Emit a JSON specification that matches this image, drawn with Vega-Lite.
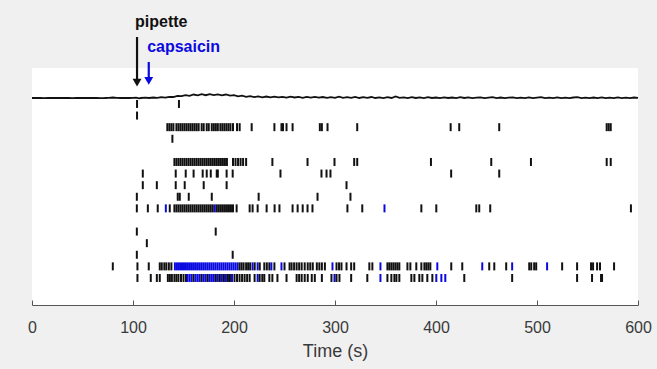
{
  "$schema": "https://vega.github.io/schema/vega-lite/v6.json",
  "width": 606,
  "height": 237,
  "autosize": "none",
  "padding": {"left": 32, "top": 68, "right": 19, "bottom": 64},
  "background": "#f0f0f0",
  "config": {
    "view": {"fill": "white", "stroke": null},
    "font": "Liberation Sans"
  },
  "datasets": {
    "trace": [
      {"t":0,"a":0},{"t":4,"a":0.1},{"t":8,"a":0},{"t":12,"a":-0.1},{"t":16,"a":0},{"t":20,"a":0.1},{"t":24,"a":0},{"t":28,"a":0},{"t":32,"a":0.1},{"t":36,"a":0},{"t":40,"a":-0.1},{"t":44,"a":0},{"t":48,"a":0.1},{"t":52,"a":0},{"t":56,"a":0},{"t":60,"a":0.1},{"t":64,"a":0},{"t":68,"a":-0.1},{"t":72,"a":0},{"t":76,"a":0.2},{"t":80,"a":0.5},{"t":84,"a":0.1},{"t":88,"a":0},{"t":92,"a":0.1},{"t":96,"a":0},{"t":100,"a":0.1},{"t":103,"a":0.3},{"t":106,"a":-0.4},{"t":108,"a":0},{"t":112,"a":0.3},{"t":116,"a":0},{"t":120,"a":0.5},{"t":124,"a":0.2},{"t":128,"a":0.8},{"t":132,"a":0.4},{"t":136,"a":1.1},{"t":140,"a":1.0},{"t":144,"a":2.0},{"t":148,"a":1.9},{"t":152,"a":2.9},{"t":156,"a":2.2},{"t":160,"a":3.5},{"t":164,"a":2.6},{"t":168,"a":3.8},{"t":172,"a":2.8},{"t":176,"a":3.9},{"t":180,"a":2.9},{"t":184,"a":3.7},{"t":188,"a":2.7},{"t":192,"a":3.5},{"t":196,"a":2.3},{"t":200,"a":2.9},{"t":204,"a":1.7},{"t":208,"a":2.3},{"t":212,"a":1.2},{"t":216,"a":1.9},{"t":220,"a":0.9},{"t":224,"a":1.7},{"t":228,"a":0.7},{"t":232,"a":1.5},{"t":236,"a":0.6},{"t":240,"a":1.4},{"t":244,"a":0.7},{"t":248,"a":1.2},{"t":252,"a":0.4},{"t":256,"a":1.3},{"t":260,"a":0.5},{"t":264,"a":1.1},{"t":268,"a":0.2},{"t":272,"a":1.2},{"t":276,"a":0.4},{"t":280,"a":1.1},{"t":284,"a":0.3},{"t":288,"a":1.0},{"t":292,"a":0.2},{"t":296,"a":0.9},{"t":300,"a":0.1},{"t":304,"a":1.3},{"t":308,"a":0.2},{"t":312,"a":0.8},{"t":316,"a":0.1},{"t":320,"a":1.1},{"t":324,"a":0},{"t":328,"a":0.8},{"t":332,"a":0.1},{"t":336,"a":1.0},{"t":340,"a":0},{"t":344,"a":0.7},{"t":348,"a":-0.1},{"t":352,"a":0.8},{"t":356,"a":0},{"t":360,"a":1.6},{"t":364,"a":0.1},{"t":368,"a":0.7},{"t":372,"a":-0.1},{"t":376,"a":0.9},{"t":380,"a":0},{"t":384,"a":0.6},{"t":388,"a":-0.1},{"t":392,"a":0.8},{"t":396,"a":0},{"t":400,"a":0.5},{"t":404,"a":-0.1},{"t":408,"a":0.7},{"t":412,"a":0},{"t":416,"a":0.5},{"t":420,"a":-0.1},{"t":424,"a":0.8},{"t":428,"a":0},{"t":432,"a":0.6},{"t":436,"a":-0.1},{"t":440,"a":0.4},{"t":444,"a":0.7},{"t":448,"a":-0.1},{"t":452,"a":0.4},{"t":456,"a":0.8},{"t":460,"a":-0.1},{"t":464,"a":0.5},{"t":468,"a":-0.1},{"t":472,"a":0.4},{"t":476,"a":0.7},{"t":480,"a":-0.1},{"t":484,"a":0.4},{"t":488,"a":-0.1},{"t":492,"a":0.6},{"t":496,"a":-0.1},{"t":500,"a":0.4},{"t":504,"a":0.8},{"t":508,"a":-0.1},{"t":512,"a":0.4},{"t":516,"a":-0.1},{"t":520,"a":0.7},{"t":524,"a":-0.1},{"t":528,"a":0.4},{"t":532,"a":-0.1},{"t":536,"a":0.5},{"t":540,"a":0.8},{"t":544,"a":-0.1},{"t":548,"a":0.4},{"t":552,"a":-0.1},{"t":556,"a":0.5},{"t":560,"a":-0.1},{"t":564,"a":0.7},{"t":568,"a":-0.1},{"t":572,"a":0.4},{"t":576,"a":-0.1},{"t":580,"a":0.6},{"t":584,"a":-0.1},{"t":588,"a":0.4},{"t":592,"a":-0.1},{"t":596,"a":0.5},{"t":600,"a":0.1}
    ],
    "spikes": [
      {"r":0,"t":104,"c":"k"},{"r":0,"t":145.5,"c":"k"},
      {"r":1,"t":104,"c":"k"},
      {"r":2,"t":134,"c":"k"},{"r":2,"t":136,"c":"k"},{"r":2,"t":138,"c":"k"},{"r":2,"t":140,"c":"k"},{"r":2,"t":143,"c":"k"},{"r":2,"t":145,"c":"k"},{"r":2,"t":147,"c":"k"},{"r":2,"t":149,"c":"k"},{"r":2,"t":151,"c":"k"},{"r":2,"t":153,"c":"k"},{"r":2,"t":155,"c":"k"},{"r":2,"t":157,"c":"k"},{"r":2,"t":159,"c":"k"},{"r":2,"t":161,"c":"k"},{"r":2,"t":163,"c":"k"},{"r":2,"t":165,"c":"k"},{"r":2,"t":168,"c":"k"},{"r":2,"t":170,"c":"k"},{"r":2,"t":173,"c":"k"},{"r":2,"t":175,"c":"k"},{"r":2,"t":178,"c":"k"},{"r":2,"t":180,"c":"k"},{"r":2,"t":182,"c":"k"},{"r":2,"t":184,"c":"k"},{"r":2,"t":186.5,"c":"k"},{"r":2,"t":188.5,"c":"k"},{"r":2,"t":190.5,"c":"k"},{"r":2,"t":192.5,"c":"k"},{"r":2,"t":194.5,"c":"k"},{"r":2,"t":196.5,"c":"k"},{"r":2,"t":199,"c":"k"},{"r":2,"t":203,"c":"k"},{"r":2,"t":205.6,"c":"k"},{"r":2,"t":217.5,"c":"k"},{"r":2,"t":240,"c":"k"},{"r":2,"t":247,"c":"k"},{"r":2,"t":248.5,"c":"k"},{"r":2,"t":252,"c":"k"},{"r":2,"t":258,"c":"k"},{"r":2,"t":285,"c":"k"},{"r":2,"t":287,"c":"k"},{"r":2,"t":292.6,"c":"k"},{"r":2,"t":322,"c":"k"},{"r":2,"t":414.5,"c":"k"},{"r":2,"t":423,"c":"k"},{"r":2,"t":462.6,"c":"k"},{"r":2,"t":569,"c":"k"},{"r":2,"t":571,"c":"k"},{"r":2,"t":573,"c":"k"},
      {"r":3,"t":139,"c":"k"},
      {"r":5,"t":141,"c":"k"},{"r":5,"t":143,"c":"k"},{"r":5,"t":145,"c":"k"},{"r":5,"t":147,"c":"k"},{"r":5,"t":149,"c":"k"},{"r":5,"t":151,"c":"k"},{"r":5,"t":153,"c":"k"},{"r":5,"t":155,"c":"k"},{"r":5,"t":157,"c":"k"},{"r":5,"t":159,"c":"k"},{"r":5,"t":161,"c":"k"},{"r":5,"t":163,"c":"k"},{"r":5,"t":165,"c":"k"},{"r":5,"t":167,"c":"k"},{"r":5,"t":169,"c":"k"},{"r":5,"t":171,"c":"k"},{"r":5,"t":173,"c":"k"},{"r":5,"t":175,"c":"k"},{"r":5,"t":177,"c":"k"},{"r":5,"t":179,"c":"k"},{"r":5,"t":181,"c":"k"},{"r":5,"t":183,"c":"k"},{"r":5,"t":185,"c":"k"},{"r":5,"t":187,"c":"k"},{"r":5,"t":189,"c":"k"},{"r":5,"t":191,"c":"k"},{"r":5,"t":193,"c":"k"},{"r":5,"t":199,"c":"k"},{"r":5,"t":201.5,"c":"k"},{"r":5,"t":204,"c":"k"},{"r":5,"t":206.5,"c":"k"},{"r":5,"t":209,"c":"k"},{"r":5,"t":212,"c":"k"},{"r":5,"t":238,"c":"k"},{"r":5,"t":272.8,"c":"k"},{"r":5,"t":299.5,"c":"k"},{"r":5,"t":319,"c":"k"},{"r":5,"t":322,"c":"k"},{"r":5,"t":395,"c":"k"},{"r":5,"t":454.7,"c":"k"},{"r":5,"t":494,"c":"k"},{"r":5,"t":569,"c":"k"},{"r":5,"t":573,"c":"k"},
      {"r":6,"t":109.7,"c":"k"},{"r":6,"t":142.3,"c":"k"},{"r":6,"t":152.2,"c":"k"},{"r":6,"t":160,"c":"k"},{"r":6,"t":169,"c":"k"},{"r":6,"t":173,"c":"k"},{"r":6,"t":177,"c":"k"},{"r":6,"t":182.9,"c":"k"},{"r":6,"t":184,"c":"k"},{"r":6,"t":192.7,"c":"k"},{"r":6,"t":198.7,"c":"k"},{"r":6,"t":246,"c":"k"},{"r":6,"t":286.6,"c":"k"},{"r":6,"t":291.6,"c":"k"},{"r":6,"t":295.5,"c":"k"},{"r":6,"t":415,"c":"k"},{"r":6,"t":462.6,"c":"k"},
      {"r":7,"t":109.7,"c":"k"},{"r":7,"t":123.6,"c":"k"},{"r":7,"t":142.3,"c":"k"},{"r":7,"t":151.2,"c":"k"},{"r":7,"t":170,"c":"k"},{"r":7,"t":192.7,"c":"k"},{"r":7,"t":311.4,"c":"k"},
      {"r":8,"t":103.8,"c":"k"},{"r":8,"t":144.3,"c":"k"},{"r":8,"t":146.3,"c":"k"},{"r":8,"t":155.2,"c":"k"},{"r":8,"t":178,"c":"k"},{"r":8,"t":224.4,"c":"k"},{"r":8,"t":282.7,"c":"k"},{"r":8,"t":315.3,"c":"k"},
      {"r":9,"t":103.8,"c":"k"},{"r":9,"t":114.7,"c":"k"},{"r":9,"t":124.5,"c":"k"},{"r":9,"t":132.5,"c":"b"},{"r":9,"t":136.4,"c":"k"},{"r":9,"t":141,"c":"k"},{"r":9,"t":143,"c":"k"},{"r":9,"t":145,"c":"k"},{"r":9,"t":147,"c":"k"},{"r":9,"t":149,"c":"k"},{"r":9,"t":151,"c":"k"},{"r":9,"t":153,"c":"k"},{"r":9,"t":155,"c":"k"},{"r":9,"t":157,"c":"k"},{"r":9,"t":159,"c":"k"},{"r":9,"t":161,"c":"k"},{"r":9,"t":163,"c":"k"},{"r":9,"t":165,"c":"k"},{"r":9,"t":167,"c":"k"},{"r":9,"t":169,"c":"k"},{"r":9,"t":171,"c":"k"},{"r":9,"t":173,"c":"k"},{"r":9,"t":175,"c":"k"},{"r":9,"t":177,"c":"k"},{"r":9,"t":179,"c":"k"},{"r":9,"t":181,"c":"b"},{"r":9,"t":183,"c":"k"},{"r":9,"t":185,"c":"k"},{"r":9,"t":187,"c":"k"},{"r":9,"t":189,"c":"k"},{"r":9,"t":191,"c":"k"},{"r":9,"t":193,"c":"k"},{"r":9,"t":195,"c":"k"},{"r":9,"t":197,"c":"k"},{"r":9,"t":199,"c":"k"},{"r":9,"t":202.6,"c":"k"},{"r":9,"t":215.5,"c":"k"},{"r":9,"t":218.4,"c":"k"},{"r":9,"t":223.4,"c":"k"},{"r":9,"t":232.3,"c":"k"},{"r":9,"t":240.2,"c":"k"},{"r":9,"t":245,"c":"k"},{"r":9,"t":258,"c":"k"},{"r":9,"t":263,"c":"k"},{"r":9,"t":268,"c":"k"},{"r":9,"t":272.8,"c":"k"},{"r":9,"t":277.7,"c":"k"},{"r":9,"t":312.3,"c":"k"},{"r":9,"t":327,"c":"k"},{"r":9,"t":349,"c":"b"},{"r":9,"t":385.5,"c":"k"},{"r":9,"t":400.3,"c":"k"},{"r":9,"t":439.9,"c":"k"},{"r":9,"t":442.8,"c":"k"},{"r":9,"t":453.7,"c":"k"},{"r":9,"t":593,"c":"k"},
      {"r":11,"t":103.8,"c":"k"},{"r":11,"t":181.9,"c":"k"},
      {"r":12,"t":113.7,"c":"k"},
      {"r":13,"t":103.8,"c":"k"},{"r":13,"t":198.7,"c":"k"},
      {"r":14,"t":80,"c":"k"},{"r":14,"t":104.4,"c":"k"},{"r":14,"t":115.6,"c":"k"},{"r":14,"t":126.5,"c":"k"},{"r":14,"t":128.5,"c":"k"},{"r":14,"t":131,"c":"k"},{"r":14,"t":133,"c":"k"},{"r":14,"t":135.5,"c":"k"},{"r":14,"t":138,"c":"k"},
      {"r":14,"t":141.5,"c":"b"},{"r":14,"t":143.5,"c":"b"},{"r":14,"t":145.5,"c":"b"},{"r":14,"t":147.5,"c":"b"},{"r":14,"t":149.5,"c":"b"},{"r":14,"t":151.5,"c":"b"},{"r":14,"t":153.5,"c":"b"},{"r":14,"t":155.5,"c":"b"},{"r":14,"t":157.5,"c":"b"},{"r":14,"t":159.5,"c":"b"},{"r":14,"t":161.5,"c":"b"},{"r":14,"t":163.5,"c":"b"},{"r":14,"t":165.5,"c":"b"},{"r":14,"t":167.5,"c":"b"},{"r":14,"t":169.5,"c":"b"},{"r":14,"t":171.5,"c":"b"},{"r":14,"t":173.5,"c":"b"},{"r":14,"t":175.5,"c":"b"},{"r":14,"t":177.5,"c":"b"},{"r":14,"t":179.5,"c":"b"},{"r":14,"t":181.5,"c":"b"},{"r":14,"t":183.5,"c":"b"},{"r":14,"t":185.5,"c":"b"},{"r":14,"t":187.5,"c":"b"},{"r":14,"t":189.5,"c":"b"},{"r":14,"t":191.5,"c":"b"},{"r":14,"t":193.5,"c":"b"},{"r":14,"t":195.5,"c":"b"},{"r":14,"t":197.5,"c":"b"},{"r":14,"t":199.5,"c":"b"},{"r":14,"t":201.5,"c":"b"},{"r":14,"t":203.5,"c":"b"},
      {"r":14,"t":205.5,"c":"k"},{"r":14,"t":207.5,"c":"k"},{"r":14,"t":209.5,"c":"k"},{"r":14,"t":212,"c":"k"},{"r":14,"t":214,"c":"k"},{"r":14,"t":216,"c":"k"},{"r":14,"t":218.4,"c":"b"},{"r":14,"t":220.5,"c":"k"},{"r":14,"t":223.4,"c":"b"},{"r":14,"t":225.5,"c":"k"},{"r":14,"t":230,"c":"k"},{"r":14,"t":232.5,"c":"k"},{"r":14,"t":235,"c":"k"},{"r":14,"t":237,"c":"b"},{"r":14,"t":240,"c":"k"},{"r":14,"t":247,"c":"b"},{"r":14,"t":250,"c":"k"},{"r":14,"t":255,"c":"k"},{"r":14,"t":257,"c":"k"},{"r":14,"t":259.5,"c":"k"},{"r":14,"t":262,"c":"k"},{"r":14,"t":264.5,"c":"k"},{"r":14,"t":267,"c":"k"},{"r":14,"t":270,"c":"k"},{"r":14,"t":273,"c":"k"},{"r":14,"t":275.5,"c":"k"},{"r":14,"t":278,"c":"k"},{"r":14,"t":282,"c":"k"},{"r":14,"t":284.5,"c":"k"},{"r":14,"t":287,"c":"k"},{"r":14,"t":290,"c":"k"},{"r":14,"t":297.5,"c":"b"},{"r":14,"t":301.5,"c":"k"},{"r":14,"t":304,"c":"k"},{"r":14,"t":306.4,"c":"k"},{"r":14,"t":311.4,"c":"k"},{"r":14,"t":316,"c":"k"},{"r":14,"t":319,"c":"k"},{"r":14,"t":334,"c":"k"},{"r":14,"t":337,"c":"k"},{"r":14,"t":345,"c":"b"},{"r":14,"t":351.9,"c":"k"},{"r":14,"t":353.8,"c":"k"},{"r":14,"t":355.8,"c":"k"},{"r":14,"t":357.8,"c":"k"},{"r":14,"t":359.8,"c":"k"},{"r":14,"t":361.8,"c":"k"},{"r":14,"t":363.7,"c":"k"},{"r":14,"t":371.7,"c":"k"},{"r":14,"t":374.6,"c":"k"},{"r":14,"t":380.5,"c":"k"},{"r":14,"t":385.5,"c":"k"},{"r":14,"t":388.5,"c":"k"},{"r":14,"t":390.4,"c":"k"},{"r":14,"t":392.4,"c":"k"},{"r":14,"t":394.4,"c":"k"},{"r":14,"t":401.3,"c":"b"},{"r":14,"t":415.1,"c":"k"},{"r":14,"t":426,"c":"k"},{"r":14,"t":445.8,"c":"b"},{"r":14,"t":452.7,"c":"k"},{"r":14,"t":457.7,"c":"k"},{"r":14,"t":469.5,"c":"k"},{"r":14,"t":475.4,"c":"b"},{"r":14,"t":492.3,"c":"k"},{"r":14,"t":494.3,"c":"k"},{"r":14,"t":497.2,"c":"k"},{"r":14,"t":499.2,"c":"k"},{"r":14,"t":510,"c":"b"},{"r":14,"t":524.9,"c":"k"},{"r":14,"t":539.7,"c":"k"},{"r":14,"t":553.5,"c":"k"},{"r":14,"t":555.5,"c":"k"},{"r":14,"t":559.5,"c":"k"},{"r":14,"t":562.4,"c":"k"},{"r":14,"t":576.3,"c":"k"},
      {"r":15,"t":104.4,"c":"k"},{"r":15,"t":117.6,"c":"k"},{"r":15,"t":123.6,"c":"k"},{"r":15,"t":126.5,"c":"k"},{"r":15,"t":134.5,"c":"k"},{"r":15,"t":136.5,"c":"k"},{"r":15,"t":138.5,"c":"k"},{"r":15,"t":141,"c":"k"},{"r":15,"t":143,"c":"k"},{"r":15,"t":145,"c":"k"},{"r":15,"t":147.5,"c":"k"},{"r":15,"t":150,"c":"k"},{"r":15,"t":152.5,"c":"k"},
      {"r":15,"t":154,"c":"b"},{"r":15,"t":156,"c":"b"},{"r":15,"t":158,"c":"b"},{"r":15,"t":160,"c":"k"},{"r":15,"t":162,"c":"b"},{"r":15,"t":164,"c":"b"},{"r":15,"t":166,"c":"b"},{"r":15,"t":168,"c":"k"},{"r":15,"t":170,"c":"b"},{"r":15,"t":172,"c":"b"},{"r":15,"t":174,"c":"k"},{"r":15,"t":176,"c":"b"},{"r":15,"t":178,"c":"b"},{"r":15,"t":180,"c":"b"},{"r":15,"t":182,"c":"k"},{"r":15,"t":184,"c":"b"},{"r":15,"t":186,"c":"k"},{"r":15,"t":188,"c":"b"},{"r":15,"t":190,"c":"k"},{"r":15,"t":192,"c":"b"},{"r":15,"t":194,"c":"k"},{"r":15,"t":196,"c":"k"},{"r":15,"t":198,"c":"b"},
      {"r":15,"t":200.5,"c":"k"},{"r":15,"t":203,"c":"k"},{"r":15,"t":205.5,"c":"k"},{"r":15,"t":208,"c":"k"},{"r":15,"t":210.5,"c":"k"},{"r":15,"t":213,"c":"k"},{"r":15,"t":215.5,"c":"k"},{"r":15,"t":220.4,"c":"k"},{"r":15,"t":223.4,"c":"b"},{"r":15,"t":225.4,"c":"k"},{"r":15,"t":228,"c":"k"},{"r":15,"t":230,"c":"k"},{"r":15,"t":235,"c":"k"},{"r":15,"t":238,"c":"k"},{"r":15,"t":243,"c":"k"},{"r":15,"t":252,"c":"k"},{"r":15,"t":262,"c":"k"},{"r":15,"t":264.5,"c":"k"},{"r":15,"t":267,"c":"k"},{"r":15,"t":270,"c":"k"},{"r":15,"t":273,"c":"k"},{"r":15,"t":277,"c":"k"},{"r":15,"t":280,"c":"k"},{"r":15,"t":287,"c":"k"},{"r":15,"t":296.5,"c":"k"},{"r":15,"t":299.5,"c":"b"},{"r":15,"t":301.5,"c":"k"},{"r":15,"t":304.4,"c":"k"},{"r":15,"t":316,"c":"k"},{"r":15,"t":332,"c":"k"},{"r":15,"t":345,"c":"b"},{"r":15,"t":351.9,"c":"k"},{"r":15,"t":355.8,"c":"k"},{"r":15,"t":358.8,"c":"k"},{"r":15,"t":360.8,"c":"k"},{"r":15,"t":363.7,"c":"k"},{"r":15,"t":375.6,"c":"k"},{"r":15,"t":378.6,"c":"k"},{"r":15,"t":383.5,"c":"k"},{"r":15,"t":386.5,"c":"k"},{"r":15,"t":391.4,"c":"k"},{"r":15,"t":396.4,"c":"k"},{"r":15,"t":400.3,"c":"b"},{"r":15,"t":405.3,"c":"b"},{"r":15,"t":409.2,"c":"b"},{"r":15,"t":428,"c":"k"},{"r":15,"t":475.4,"c":"k"},{"r":15,"t":539.7,"c":"k"},{"r":15,"t":554.5,"c":"k"},{"r":15,"t":563.4,"c":"k"},{"r":15,"t":564.4,"c":"k"}
    ],
    "notes": [
      {"t": 102, "r": -7.07, "label": "pipette", "c": "k"},
      {"t": 114, "r": -4.91, "label": "capsaicin", "c": "b"}
    ],
    "arrows": [
      {"t": 104, "r1": -5.77, "r2": -2.1, "c": "k"},
      {"t": 115.6, "r1": -3.62, "r2": -2.25, "c": "b"}
    ]
  },
  "layer": [
    {
      "data": {"name": "trace"},
      "mark": {"type": "line", "color": "#111111", "strokeWidth": 1.8},
      "encoding": {
        "x": {"field": "t", "type": "quantitative", "scale": {"domain": [0, 600], "nice": false},
          "axis": {"values": [0, 100, 200, 300, 400, 500, 600], "title": "Time (s)", "grid": false,
            "tickSize": -5, "labelPadding": 19, "labelFontSize": 16, "labelColor": "#3a3a3a",
            "titleFontSize": 18, "titleFontWeight": "normal", "titleColor": "#3a3a3a", "titlePadding": 7,
            "domainColor": "#555555", "tickColor": "#555555", "labelFlush": false}},
        "y": {"field": "a", "type": "quantitative", "scale": {"domain": [-207, 30], "nice": false, "zero": false}, "axis": null}
      }
    },
    {
      "layer": [
        {
          "data": {"name": "spikes"},
          "mark": {"type": "tick", "orient": "vertical", "size": 8, "thickness": 2, "opacity": 1},
          "encoding": {
            "x": {"field": "t", "type": "quantitative"},
            "y": {"field": "r", "type": "quantitative", "scale": {"domain": [-3.1, 17.33], "reverse": true, "nice": false, "zero": false}, "axis": null},
            "color": {"field": "c", "type": "nominal", "scale": {"domain": ["k", "b"], "range": ["#111111", "#0a0ae0"]}, "legend": null}
          }
        },
        {
          "data": {"name": "arrows"},
          "mark": {"type": "rule", "strokeWidth": 2.2},
          "encoding": {
            "x": {"field": "t", "type": "quantitative"},
            "y": {"field": "r1", "type": "quantitative"},
            "y2": {"field": "r2"},
            "color": {"field": "c", "type": "nominal", "legend": null}
          }
        },
        {
          "data": {"name": "arrows"},
          "mark": {"type": "point", "shape": "triangle-down", "filled": true, "size": 80, "opacity": 1, "yOffset": 3},
          "encoding": {
            "x": {"field": "t", "type": "quantitative"},
            "y": {"field": "r2", "type": "quantitative"},
            "color": {"field": "c", "type": "nominal", "legend": null}
          }
        },
        {
          "data": {"name": "notes"},
          "mark": {"type": "text", "align": "left", "baseline": "middle", "fontSize": 16, "fontWeight": "bold"},
          "encoding": {
            "x": {"field": "t", "type": "quantitative"},
            "y": {"field": "r", "type": "quantitative"},
            "text": {"field": "label"},
            "color": {"field": "c", "type": "nominal", "legend": null}
          }
        }
      ]
    }
  ],
  "resolve": {"scale": {"y": "independent"}}
}
